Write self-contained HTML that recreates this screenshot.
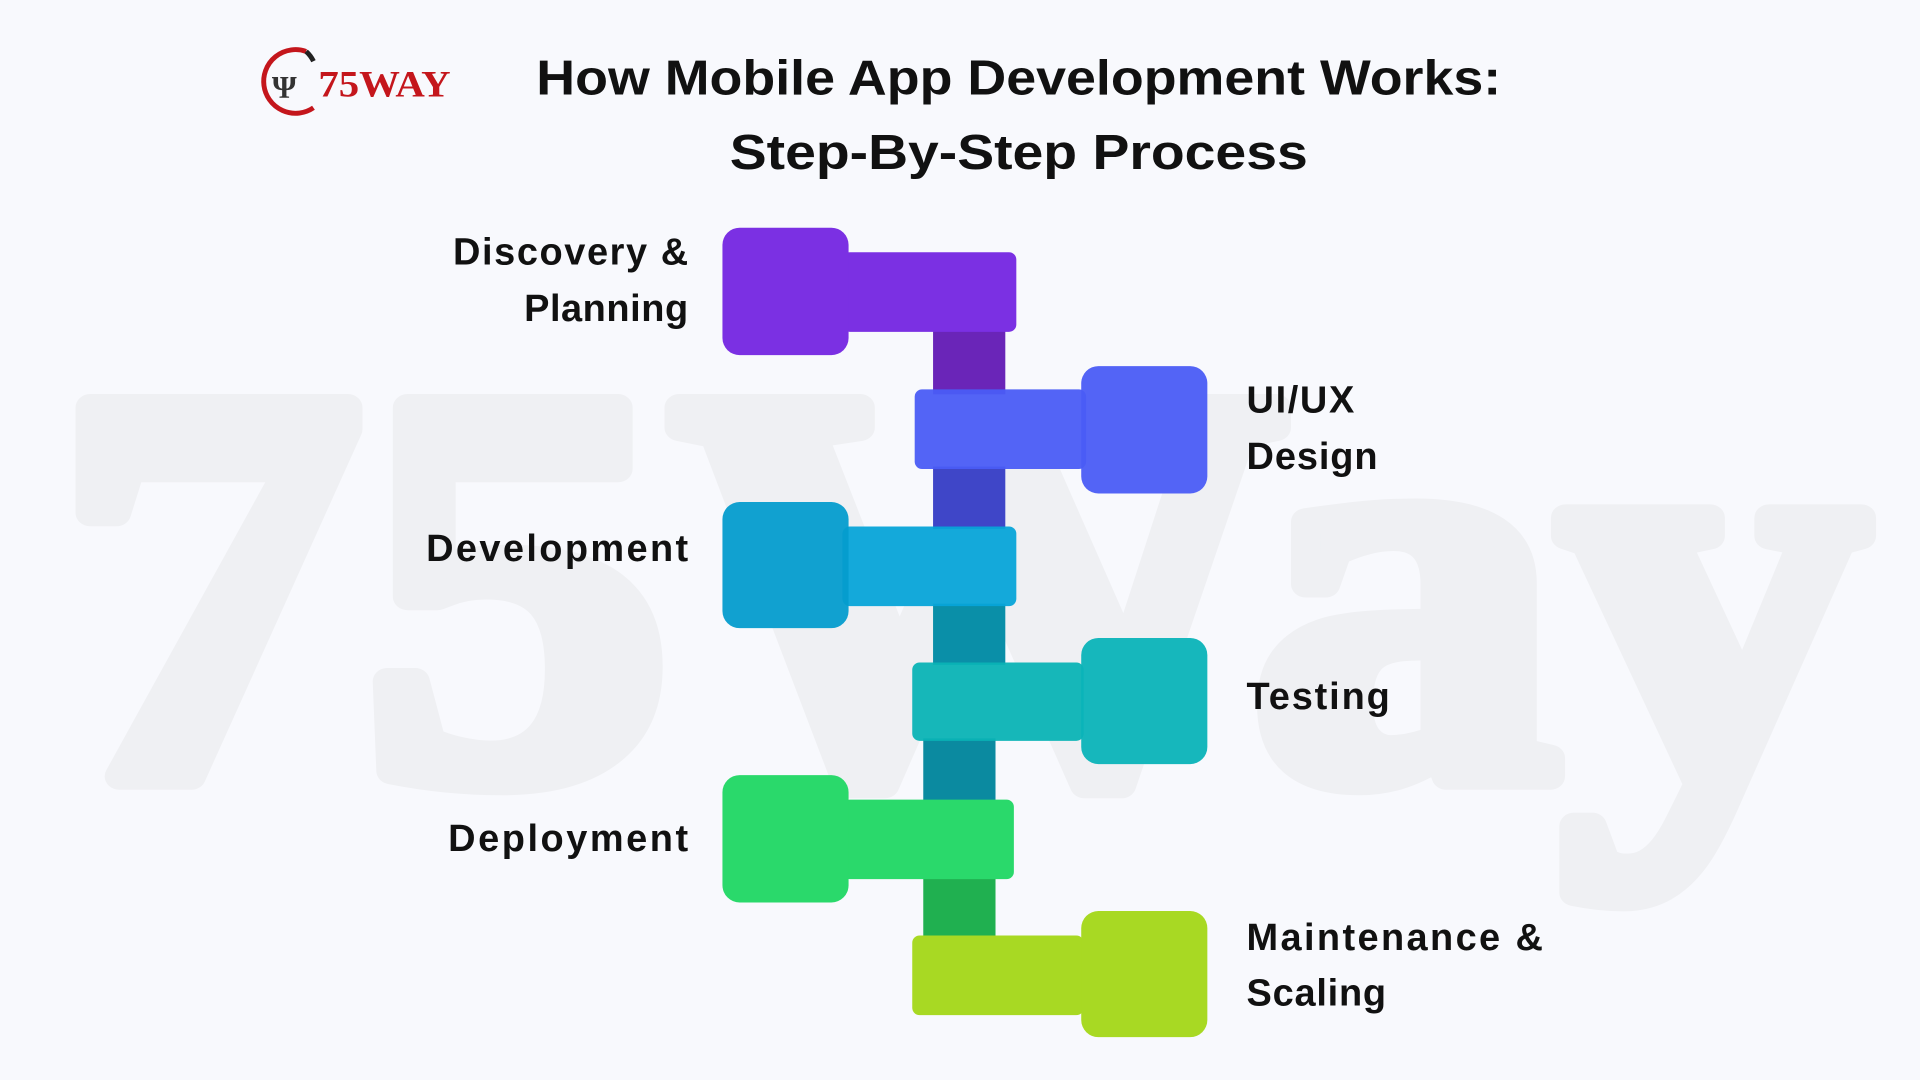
<!DOCTYPE html>
<html><head><meta charset="utf-8"><style>
html,body{margin:0;padding:0;background:#f8f9fd;overflow:hidden}
svg{display:block;width:100vw;height:100vh}
</style></head><body>
<svg viewBox="0 0 1568 882" preserveAspectRatio="none" xmlns="http://www.w3.org/2000/svg">
<rect width="1568" height="882" fill="#f8f9fd"/>
<text x="45" y="634" font-family="Liberation Serif, serif" font-weight="bold" font-size="460" fill="#eff0f3" stroke="#eff0f3" stroke-width="22" stroke-linejoin="round" textLength="1480" lengthAdjust="spacingAndGlyphs">75Way</text>
<!-- logo -->
<path d="M250 42 A26 26 0 1 0 256 88" fill="none" stroke="#c4161c" stroke-width="4"/>
<path d="M250 42 A26 26 0 0 1 256 50" fill="none" stroke="#222" stroke-width="4"/>
<text x="222" y="80" font-family="Liberation Serif, serif" font-weight="bold" font-size="26" fill="#333">Ψ</text>
<text x="260" y="79" font-family="Liberation Serif, serif" font-weight="bold" font-size="30" fill="#c4161c" textLength="108" lengthAdjust="spacingAndGlyphs">75WAY</text>
<g font-family="Liberation Sans, sans-serif" font-weight="bold" fill="#111">
<text x="832" y="77" font-size="40" text-anchor="middle" textLength="788" lengthAdjust="spacingAndGlyphs">How Mobile App Development Works:</text>
<text x="832" y="138" font-size="40" text-anchor="middle" textLength="472" lengthAdjust="spacingAndGlyphs">Step-By-Step Process</text>
</g>
<!-- connectors -->
<rect x="762" y="268" width="59" height="54" fill="#6a25b8"/>
<rect x="762" y="381" width="59" height="51" fill="#3f46c8"/>
<rect x="762" y="493" width="59" height="50" fill="#0a8fa8"/>
<rect x="754" y="603" width="59" height="52" fill="#0b8aa0"/>
<rect x="754" y="716" width="59" height="50" fill="#20b050"/>
<!-- step1 -->
<rect x="688" y="206" width="142" height="65" rx="6" fill="#7b30e3"/>
<rect x="590" y="186" width="103" height="104" rx="14" fill="#7b30e3"/>
<!-- step2 -->
<rect x="747" y="318" width="140" height="65" rx="6" fill="#4a5cf5" opacity="0.95"/>
<rect x="883" y="299" width="103" height="104" rx="14" fill="#4a5cf5" opacity="0.95"/>
<!-- step3 -->
<rect x="688" y="430" width="142" height="65" rx="6" fill="#07a4d8" opacity="0.95"/>
<rect x="590" y="410" width="103" height="103" rx="14" fill="#049ccd" opacity="0.95"/>
<!-- step4 -->
<rect x="745" y="541" width="140" height="64" rx="6" fill="#0ab3b5" opacity="0.95"/>
<rect x="883" y="521" width="103" height="103" rx="14" fill="#0ab3b8" opacity="0.95"/>
<!-- step5 -->
<rect x="688" y="653" width="140" height="65" rx="6" fill="#2ad96b"/>
<rect x="590" y="633" width="103" height="104" rx="14" fill="#2ad96b"/>
<!-- step6 -->
<rect x="745" y="764" width="140" height="65" rx="6" fill="#a8d923"/>
<rect x="883" y="744" width="103" height="103" rx="14" fill="#a8d923"/>
<g font-family="Liberation Sans, sans-serif" font-weight="bold" font-size="31" fill="#111" lengthAdjust="spacingAndGlyphs">
<text x="370" y="216" textLength="192">Discovery &amp;</text>
<text x="428" y="262" textLength="134">Planning</text>
<text x="348" y="458" textLength="214">Development</text>
<text x="366" y="695" textLength="196">Deployment</text>
<text x="1018" y="337" textLength="88">UI/UX</text>
<text x="1018" y="383" textLength="107">Design</text>
<text x="1018" y="579" textLength="117">Testing</text>
<text x="1018" y="776" textLength="242">Maintenance &amp;</text>
<text x="1018" y="821" textLength="114">Scaling</text>
</g>
</svg>
</body></html>
